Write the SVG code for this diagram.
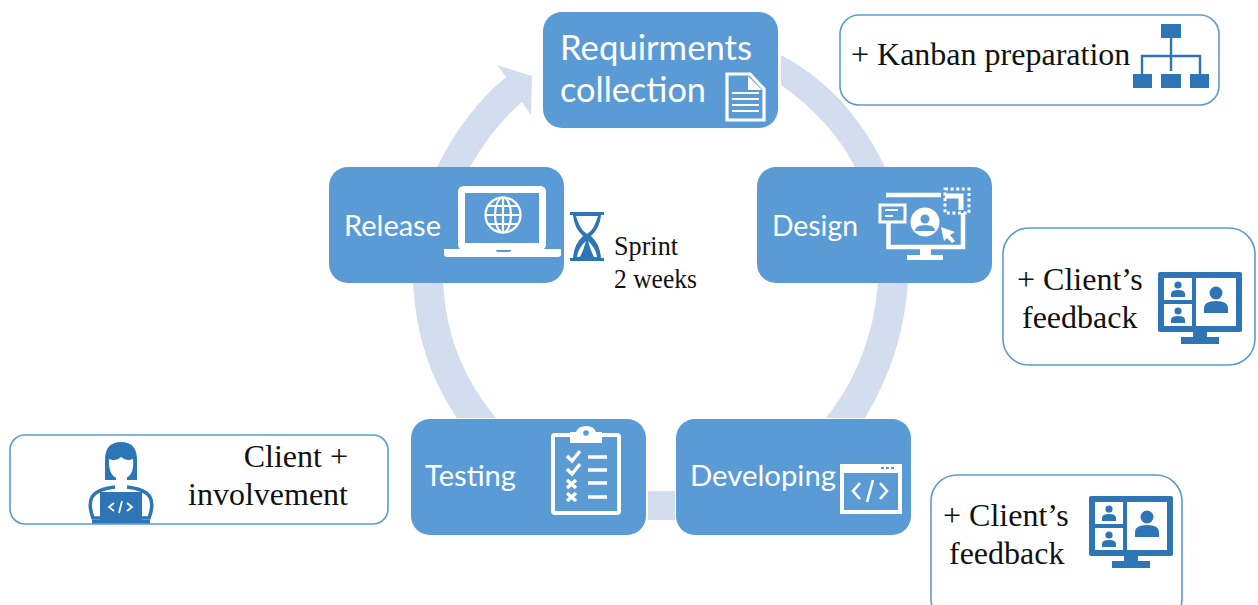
<svg xmlns="http://www.w3.org/2000/svg" width="1258" height="605" viewBox="0 0 1258 605">
<style>
.node{fill:#5b9bd5}
.ring{fill:#d2deef}
.note{fill:#fff;stroke:#5b9bd5;stroke-width:1.6}
.nt{font-family:"Lato","Carlito","Liberation Sans",sans-serif;font-size:29.5px;fill:#fff}
.big{font-size:34px}
.st{font-family:"Liberation Serif","Times New Roman",serif;font-size:32px;fill:#111}
.sp{font-family:"Liberation Serif","Times New Roman",serif;font-size:28px;fill:#111}
.ws{fill:none;stroke:#fff;stroke-linecap:butt}
.wf{fill:#fff}
.bf{fill:#2e75b6}
</style>
<defs>
<g id="call">
<rect width="84" height="60" rx="2" class="bf"/>
<rect x="6" y="6" width="28" height="22" class="wf"/>
<rect x="6" y="32" width="28" height="22" class="wf"/>
<rect x="38" y="6" width="40" height="48" class="wf"/>
<circle cx="20" cy="13" r="3.6" class="bf"/><path d="M13 25v-3q0-4 7-4t7 4v3z" class="bf"/>
<circle cx="20" cy="39" r="3.6" class="bf"/><path d="M13 51v-3q0-4 7-4t7 4v3z" class="bf"/>
<circle cx="58" cy="21" r="6.5" class="bf"/><path d="M46 41v-5q0-7 12-7t12 7v5z" class="bf"/>
<rect x="35" y="60" width="14" height="7" class="bf"/>
<rect x="23" y="65" width="38" height="7" class="bf"/>
</g>
</defs>

<g id="connectors">
<path class="ring" d="M781 55L781 85Q831 120 855 167L885 167Q848 90 781 55Z"/>
<path class="ring" d="M878 283Q872 360 826 418L865 418Q903 355 908 283Z"/>
<path class="ring" d="M648 491H675V520H648Z"/>
<path class="ring" d="M457 418L496 418Q447 360 443 283L413 283Q417 360 457 418Z"/>
<path class="ring" d="M437 167Q464 112 506 77L497 65L532 76L531 115L522 102Q492 128 470 167Z"/>
</g>

<g id="node-requirements">
<rect class="node" x="543" y="12" width="235" height="116" rx="19"/>
<text class="nt big" x="560" y="60" textLength="192" lengthAdjust="spacingAndGlyphs">Requirments</text>
<text class="nt big" x="560" y="102" textLength="146" lengthAdjust="spacingAndGlyphs">collection</text>
<path class="ws" stroke-width="3.2" d="M727 74H750L764 89V120H727Z"/>
<path class="wf" d="M748 76L762 90H748Z"/>
<path class="ws" stroke-width="2" d="M732 93H759M732 99H759M732 105H759M732 111H759"/>
</g>

<g id="node-design">
<rect class="node" x="757" y="167" width="235" height="116" rx="19"/>
<text class="nt" x="772" y="236" textLength="86" lengthAdjust="spacingAndGlyphs">Design</text>
<path class="ws" stroke-width="4.5" d="M886 195H941M963 213V247H888.500V219"/>
<path class="ws" stroke-width="5" d="M945 196H961V210"/>
<path class="wf" d="M920 249H931V256H920ZM907 255H943V260H907Z"/>
<rect x="880" y="205" width="25" height="17" class="ws" stroke-width="3" style="fill:#5b9bd5"/>
<path class="ws" stroke-width="2" d="M885 210H898M885 216H893"/>
<circle cx="925" cy="222" r="14.500" class="wf"/>
<circle cx="925" cy="219" r="4.500" class="node"/>
<path class="node" d="M915 231q0-6 10-6t10 6z"/>
<path class="wf" d="M941 227L955 232L950 235L955 241L952 243L947 238L944 241Z"/>
<rect x="945" y="189" width="24" height="24" class="ws" stroke-width="3" stroke-dasharray="3 2.600"/>
</g>

<g id="node-developing">
<rect class="node" x="676" y="419" width="235" height="116" rx="19"/>
<text class="nt" x="690" y="486" textLength="146" lengthAdjust="spacingAndGlyphs">Developing</text>
<rect x="842" y="466" width="58" height="46" class="ws" stroke-width="4"/>
<rect x="840" y="464" width="61" height="9" class="wf"/>
<path d="M881 467h3v2h-3zM886 467h3v2h-3zM891 467h3v2h-3z" class="node"/>
<path class="ws" stroke-width="2.600" d="M860 483L853 491L860 499M873 480L867 502M880 483L887 491L880 499"/>
</g>

<g id="node-testing">
<rect class="node" x="411" y="419" width="235" height="116" rx="19"/>
<text class="nt" x="425" y="486" textLength="91" lengthAdjust="spacingAndGlyphs">Testing</text>
<rect x="553" y="435" width="66" height="78" rx="2" class="ws" stroke-width="4"/>
<path class="wf" d="M570 432H576Q578 426 586 426T596 432H602V443H570Z"/>
<circle cx="586" cy="433" r="2.800" class="node"/>
<path class="ws" stroke-width="3.500" d="M567 456L572 461L580 451M567 469L572 474L580 464M567 480L576 488M576 480L567 488M567 493L576 501M576 493L567 501"/>
<path class="ws" stroke-width="3.500" d="M588 457H607M588 470H607M588 483H607M588 497H607"/>
</g>

<g id="node-release">
<rect class="node" x="329" y="167" width="235" height="116" rx="19"/>
<text class="nt" x="344" y="236" textLength="97" lengthAdjust="spacingAndGlyphs">Release</text>
<rect x="461.500" y="189.500" width="81" height="57" rx="2" class="ws" stroke-width="7"/>
<path class="wf" d="M444 249H495L497 252H510L512 249H561V254Q561 257 558 257H447Q444 257 444 254Z"/>
<g class="ws" stroke-width="2.200"><circle cx="503" cy="215" r="17.500"/><ellipse cx="503" cy="215" rx="8" ry="17.500"/><path d="M503 198V232M486 215H520M489 206H517M489 224H517"/></g>
</g>

<g id="sprint">
<path class="bf" d="M570 212H604V215H601Q600 228 591 236Q600 244 601 258H604V261H570V258H573Q574 244 583 236Q574 228 573 215H570Z"/>
<path class="wf" d="M576 216H598Q594 230 587 234Q580 230 576 216ZM586 241Q578 248 577 257H580Q584 249 586 241ZM588 241Q590 249 594 257H597Q596 248 588 241Z"/>
<text class="sp" x="614" y="255" textLength="64" lengthAdjust="spacingAndGlyphs">Sprint</text>
<text class="sp" x="614" y="288" textLength="83" lengthAdjust="spacingAndGlyphs">2 weeks</text>
</g>

<g id="note-kanban">
<rect class="note" x="840" y="15" width="379" height="90" rx="19"/>
<text class="st" x="851" y="65">+ Kanban preparation</text>
<g class="bf">
<rect x="1161" y="24" width="20" height="14"/>
<rect x="1133" y="74" width="19" height="14"/>
<rect x="1161" y="74" width="20" height="14"/>
<rect x="1190" y="74" width="19" height="14"/>
</g>
<path d="M1171 38V71M1142 74V56H1200V74" fill="none" stroke="#2e75b6" stroke-width="2.400"/>
</g>

<g id="note-feedback-design">
<rect class="note" x="1003" y="228" width="252" height="137" rx="26"/>
<text class="st" x="1017" y="290">+ Client’s</text>
<text class="st" x="1022" y="328">feedback</text>
<use href="#call" x="1158" y="272"/>
</g>

<g id="note-feedback-developing">
<rect class="note" x="931" y="475" width="251" height="150" rx="26"/>
<text class="st" x="943" y="526">+ Client’s</text>
<text class="st" x="949" y="564">feedback</text>
<use href="#call" x="1089" y="496"/>
</g>

<g id="note-involvement">
<rect class="note" x="10" y="435" width="378" height="89" rx="15"/>
<text class="st" x="348" y="467" text-anchor="end">Client +</text>
<text class="st" x="348" y="505" text-anchor="end">involvement</text>
<path class="bf" d="M105 480V460Q105 442 121 442T137 460V480Z"/>
<path class="wf" d="M109 459Q116 462 121 457Q127 462 133 459Q135 478 121 479Q108 478 109 459ZM116 478H127V488H116Z"/>
<path fill="none" stroke="#2e75b6" stroke-width="3.500" d="M100 518H93Q88 505 92 497Q97 489 115 487M142 518H149Q154 505 150 497Q145 489 127 487"/>
<rect x="100" y="492" width="42" height="30" class="bf"/>
<rect x="92" y="520" width="58" height="3.500" class="bf"/>
<path class="ws" stroke-width="1.800" d="M114 503L109 507L114 511M122 501L119 513M127 503L132 507L127 511"/>
</g>
</svg>
